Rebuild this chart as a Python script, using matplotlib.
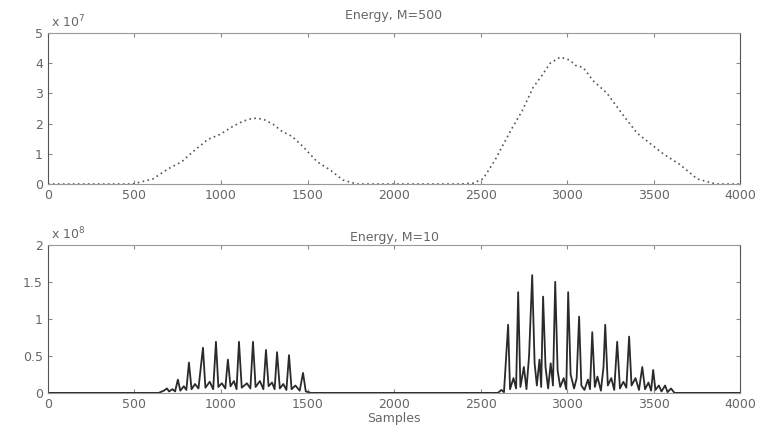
import matplotlib.pyplot as plt

# top panel: energy with M=500 (units of 1e7)
top_x = [0, 490, 607, 694, 774, 838, 925, 994, 1069, 1127, 1185, 1243, 1301, 1353,
         1410, 1474, 1555, 1630, 1705, 1786, 2381, 2457, 2514, 2584, 2630, 2682,
         2740, 2803, 2855, 2902, 2960, 3017, 3046, 3092, 3150, 3231, 3318, 3405,
         3480, 3555, 3653, 3751, 3860, 4000]
top_y = [0, 0, 0.17, 0.5, 0.74, 1.07, 1.48, 1.64, 1.91, 2.08, 2.18, 2.15, 1.98, 1.74,
         1.58, 1.24, 0.74, 0.47, 0.13, 0, 0, 0.03, 0.17, 0.8, 1.3, 1.85,
         2.42, 3.19, 3.6, 4.0, 4.2, 4.1, 3.93, 3.86, 3.42, 3.0, 2.32, 1.68,
         1.34, 1.0, 0.64, 0.17, 0, 0]

# bottom panel: energy with M=10 (units of 1e8)
bot_x = [0, 640, 670, 688, 700, 720, 735, 751, 765, 785, 800, 815, 830, 850, 870,
         896, 910, 935, 955, 971, 985, 1005, 1025, 1040, 1055, 1075, 1090, 1104,
         1120, 1150, 1170, 1185, 1200, 1225, 1245, 1260, 1275, 1295, 1310, 1324,
         1340, 1360, 1378, 1393, 1408, 1430, 1455, 1474, 1490, 1520,
         2600, 2620, 2635, 2659, 2670, 2690, 2705, 2717, 2730, 2750, 2765, 2780,
         2798, 2812, 2825, 2840, 2850, 2861, 2875, 2890, 2905, 2918, 2931, 2945,
         2960, 2980, 2995, 3006, 3020, 3040, 3055, 3069, 3082, 3100, 3120, 3132,
         3145, 3160, 3175, 3195, 3210, 3220, 3235, 3255, 3272, 3289, 3305, 3325,
         3342, 3358, 3372, 3395, 3415, 3434, 3450, 3470, 3485, 3497, 3510, 3530,
         3545, 3566, 3580, 3600, 3620, 4000]
bot_y = [0, 0, 0.03, 0.06, 0.02, 0.05, 0.02, 0.18, 0.03, 0.09, 0.04, 0.41, 0.05, 0.12, 0.06,
         0.61, 0.07, 0.15, 0.05, 0.69, 0.08, 0.13, 0.06, 0.45, 0.09, 0.16, 0.05, 0.69,
         0.07, 0.13, 0.06, 0.69, 0.08, 0.16, 0.05, 0.58, 0.09, 0.14, 0.05, 0.55,
         0.06, 0.12, 0.04, 0.51, 0.05, 0.10, 0.03, 0.27, 0.02, 0,
         0, 0.04, 0.01, 0.92, 0.05, 0.20, 0.06, 1.36, 0.08, 0.35, 0.05, 0.50,
         1.59, 0.40, 0.10, 0.45, 0.08, 1.30, 0.35, 0.06, 0.40, 0.10, 1.50, 0.30,
         0.08, 0.20, 0.05, 1.36, 0.25, 0.06, 0.20, 1.03, 0.10, 0.04, 0.18, 0.05,
         0.82, 0.08, 0.22, 0.03, 0.35, 0.92, 0.10, 0.20, 0.04, 0.69, 0.06, 0.15,
         0.07, 0.76, 0.10, 0.20, 0.04, 0.35, 0.05, 0.14, 0.03, 0.31, 0.04, 0.10,
         0.02, 0.10, 0.01, 0.06, 0, 0]

xticks = [0, 500, 1000, 1500, 2000, 2500, 3000, 3500, 4000]
top_yticks = [0, 1, 2, 3, 4, 5]
bot_yticks = [0, 0.5, 1, 1.5, 2]

txt = "#666666"
fig = plt.figure(figsize=(7.6, 4.28), dpi=100)
ax1 = fig.add_axes([0.063, 0.570, 0.911, 0.353])
ax2 = fig.add_axes([0.063, 0.082, 0.911, 0.346])

ax1.plot(top_x, top_y, color="#555555", lw=1.2, linestyle=(0, (1, 2)))
ax2.plot(bot_x, bot_y, color="#2a2a2a", lw=1.3)

for ax, yt in ((ax1, top_yticks), (ax2, bot_yticks)):
    ax.set_xlim(0, 4000)
    ax.set_ylim(yt[0], yt[-1])
    ax.set_xticks(xticks)
    ax.set_xticklabels([str(v) for v in xticks])
    ax.set_yticks(yt)
    ax.set_yticklabels([("%g" % v) for v in yt])
    ax.tick_params(direction="in", top=True, right=True, length=3,
                   labelsize=9, labelcolor=txt, color="#888888")
    for s in ax.spines.values():
        s.set_color("#999999")
        s.set_linewidth(0.8)
    ax.spines["left"].set_color("#555555")
    ax.spines["right"].set_color("#555555")

ax1.set_title("Energy, M=500", fontsize=9, color=txt, pad=10)
ax2.set_title("Energy, M=10", fontsize=9, color=txt, pad=3)
ax1.text(0.005, 1.02, r"x 10$^7$", transform=ax1.transAxes, fontsize=9, color=txt, va="bottom")
ax2.text(0.005, 1.02, r"x 10$^8$", transform=ax2.transAxes, fontsize=9, color=txt, va="bottom")
ax2.set_xlabel("Samples", fontsize=9, color=txt, labelpad=1)

fig.savefig("out.png", dpi=100)
